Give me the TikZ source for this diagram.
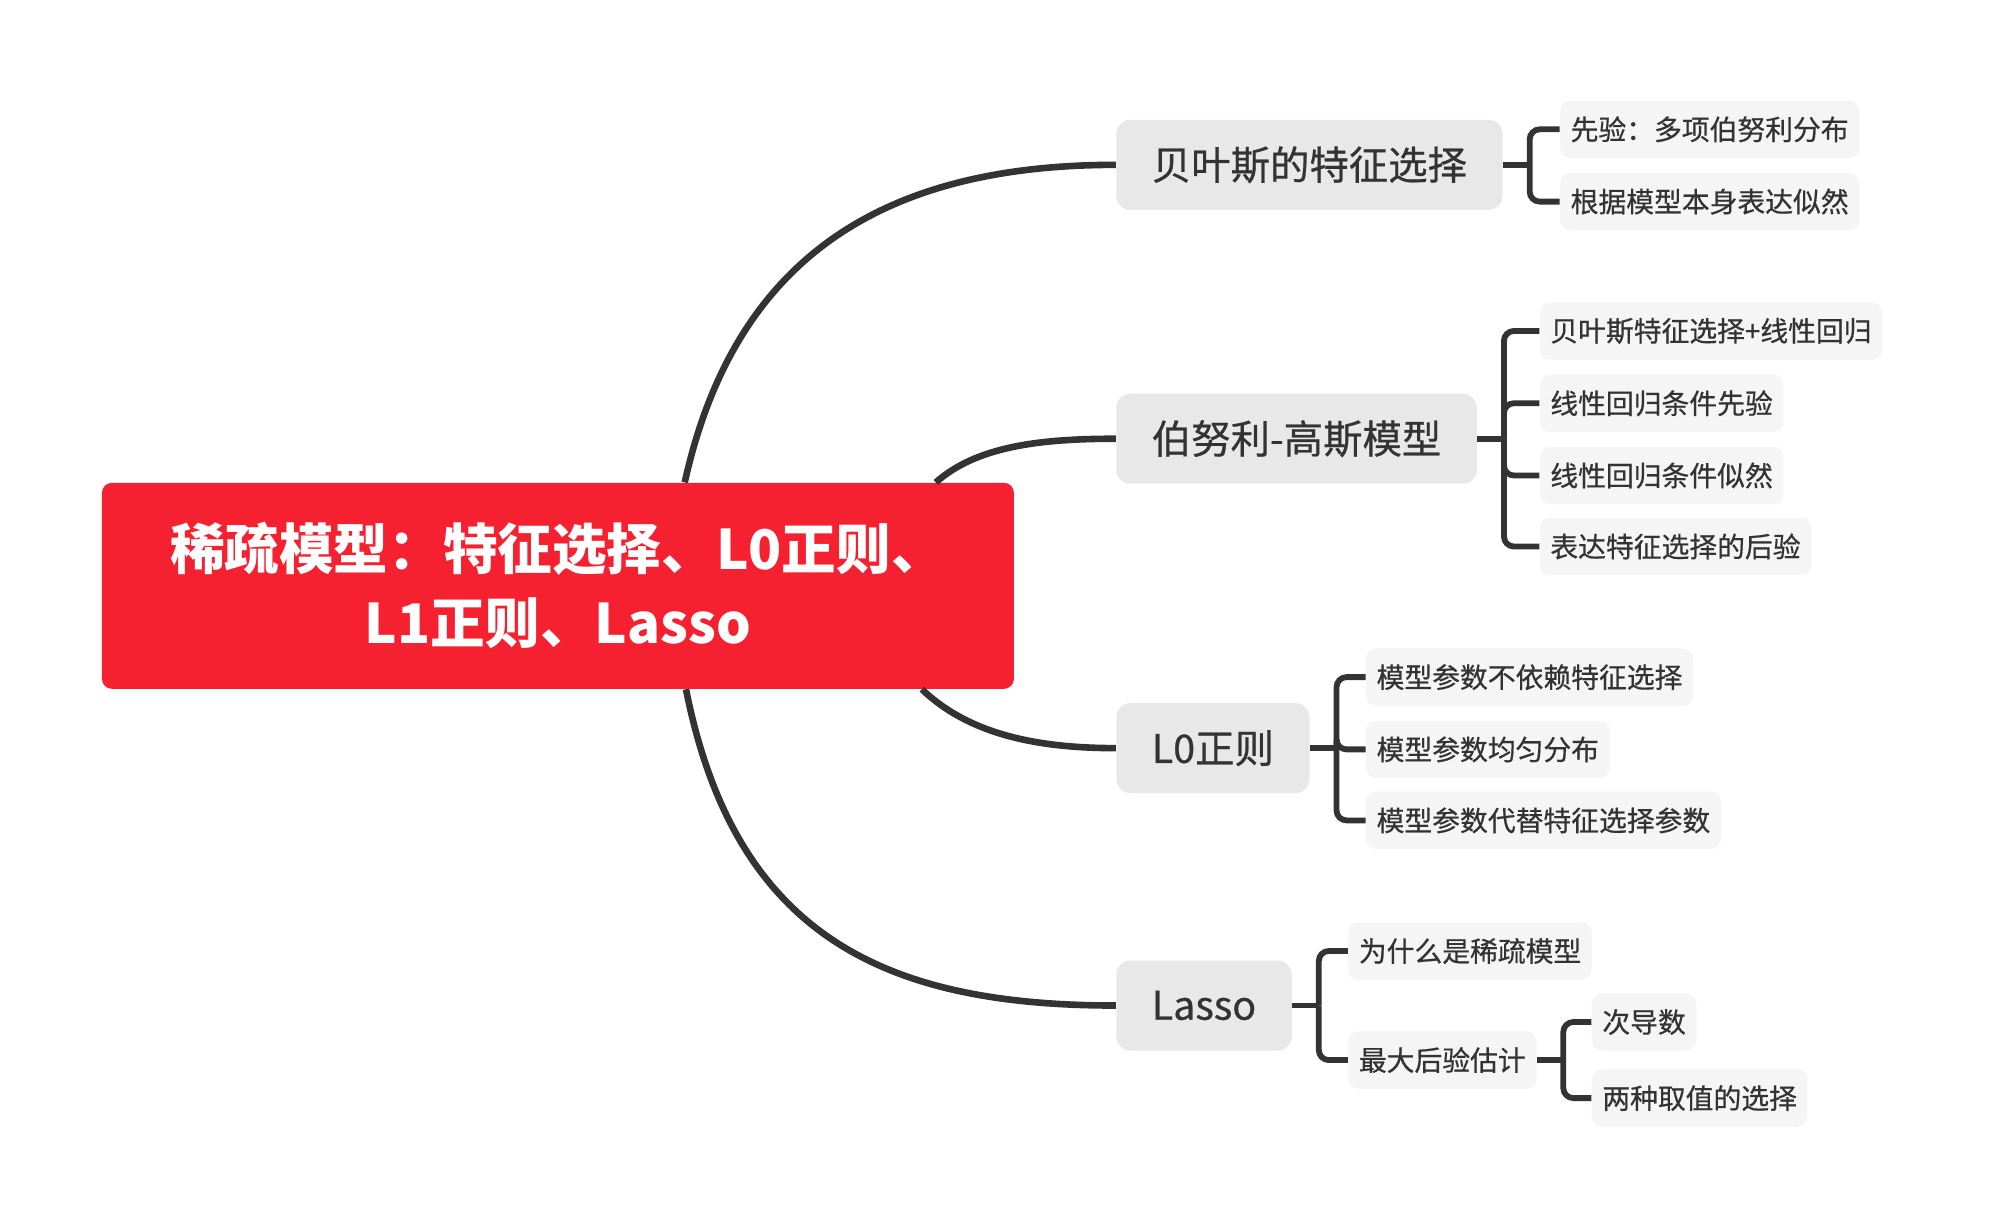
\documentclass[tikz,border=0pt]{standalone}
\usepackage{fontspec}
\setmainfont{Noto Sans CJK SC}
\newfontfamily\medfont{Noto Sans CJK SC}[FakeBold=0.6]
\usetikzlibrary{calc}
\definecolor{rootred}{RGB}{246,33,48}
\definecolor{topicgray}{RGB}{232,232,232}
\definecolor{leafgray}{RGB}{245,245,245}
\definecolor{ink}{RGB}{51,51,51}
\begin{document}
\begin{tikzpicture}[x=0.634pt,y=-0.634pt,
 root/.style={fill=rootred,text=white,rounded corners=5pt,minimum width=456pt,minimum height=103pt,align=center,font=\fontsize{27.3}{37}\selectfont\bfseries},
 topic/.style={fill=topicgray,text=ink,rounded corners=7pt,inner xsep=17.8pt,minimum height=45pt,anchor=west,font=\fontsize{19.7}{24}\medfont},
 leaf/.style={fill=leafgray,text=ink,rounded corners=5pt,inner xsep=5.3pt,minimum height=28.7pt,anchor=west,font=\fontsize{13.9}{17}\medfont},
 conn/.style={draw=ink,line width=3.3pt},
 brace/.style={draw=ink,line width=2.9pt,rounded corners=5pt}]
 \useasboundingbox (0,0) rectangle (1569.4,969.8);
 \node[root] (root) at (440,462) {稀疏模型：特征选择、L0正则、\\L1正则、Lasso};
 % main topics
 \node[topic] (b1) at (880,130) {贝叶斯的特征选择};
 \node[topic] (b2) at (880,346) {伯努利-高斯模型};
 \node[topic] (b3) at (880,590) {L0正则};
 \node[topic] (b4) at (880,793) {Lasso};
 \draw[conn] ($(root.north)+(100,0)$) .. controls (580,200) and (700,130) .. (b1.west);
 \draw[conn] ($(root.north)+(298,0)$) .. controls (770,352) and (820,346) .. (b2.west);
 \draw[conn] ($(root.south)+(287,0)$) .. controls (765,580) and (820,590) .. (b3.west);
 \draw[conn] ($(root.south)+(101,0)$) .. controls (580,740) and (700,793) .. (b4.west);
 % leaves
 \node[leaf] (l11) at (1230,102) {先验：多项伯努利分布};
 \node[leaf] (l12) at (1230,159) {根据模型本身表达似然};
 \node[leaf] (l21) at (1214,261) {贝叶斯特征选择+线性回归};
 \node[leaf] (l22) at (1214,318) {线性回归条件先验};
 \node[leaf] (l23) at (1214,375) {线性回归条件似然};
 \node[leaf] (l24) at (1214,431) {表达特征选择的后验};
 \node[leaf] (l31) at (1077,534) {模型参数不依赖特征选择};
 \node[leaf] (l32) at (1077,591) {模型参数均匀分布};
 \node[leaf] (l33) at (1077,647) {模型参数代替特征选择参数};
 \node[leaf] (l41) at (1063,750) {为什么是稀疏模型};
 \node[leaf] (l42) at (1063,836) {最大后验估计};
 \node[leaf] (l421) at (1255,806) {次导数};
 \node[leaf] (l422) at (1255,866) {两种取值的选择};
 % brackets
 \coordinate (k1) at ($(b1.east)+(21,0)$);
 \coordinate (k2) at ($(b2.east)+(21,0)$);
 \coordinate (k3) at ($(b3.east)+(21,0)$);
 \coordinate (k4) at ($(b4.east)+(21,0)$);
 \coordinate (k42) at ($(l42.east)+(21,0)$);
 \draw[brace] (b1.east) -- (k1);
 \draw[brace] (b2.east) -- (k2);
 \draw[brace] (b3.east) -- (k3);
 \draw[brace] (b4.east) -- (k4);
 \draw[brace] (l42.east) -- (k42);
 \foreach \l in {l11,l12} \draw[brace] (k1) |- (\l.west);
 \foreach \l in {l21,l22,l23,l24} \draw[brace] (k2) |- (\l.west);
 \foreach \l in {l31,l32,l33} \draw[brace] (k3) |- (\l.west);
 \foreach \l in {l41,l42} \draw[brace] (k4) |- (\l.west);
 \foreach \l in {l421,l422} \draw[brace] (k42) |- (\l.west);
\end{tikzpicture}
\end{document}
